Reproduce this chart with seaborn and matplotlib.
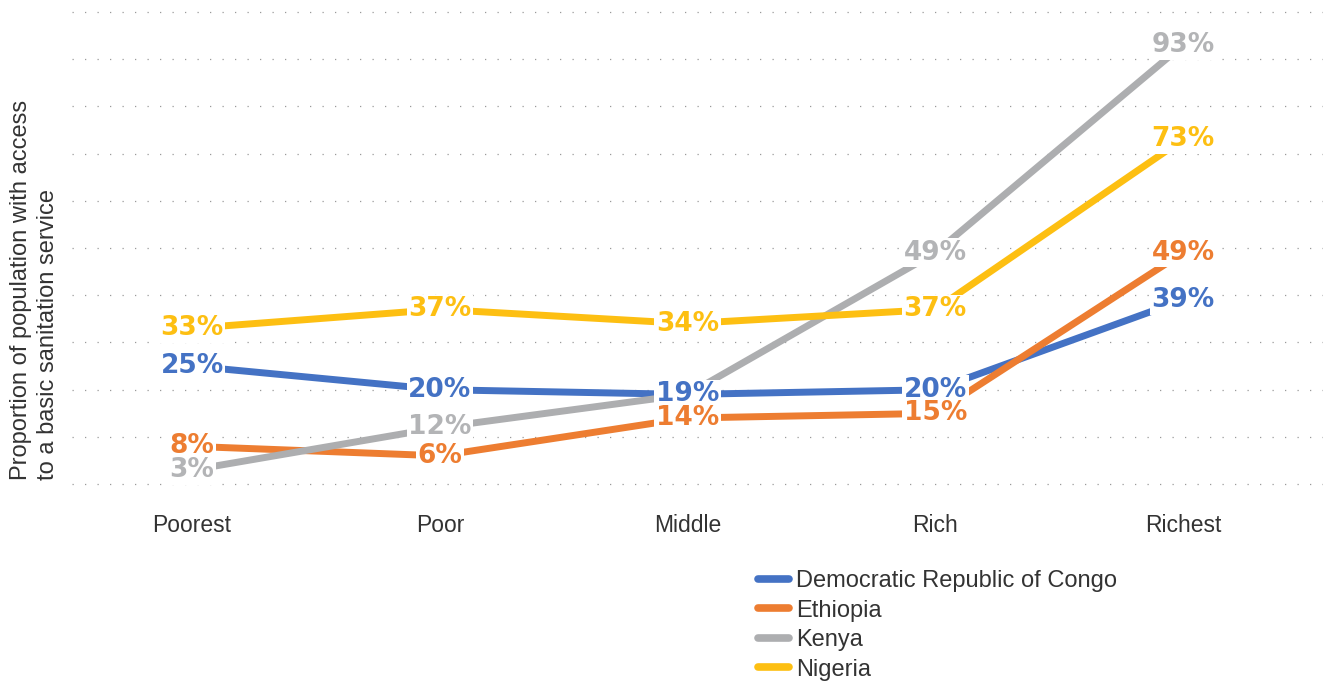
import seaborn as sns
import matplotlib.pyplot as plt
import pandas as pd

plt.switch_backend('agg')

sns.set_style('white')
plt.rcParams['font.family'] = ['Liberation Sans', 'DejaVu Sans']

quintiles = ['Poorest', 'Poor', 'Middle', 'Rich', 'Richest']
countries = ['Democratic Republic of Congo', 'Ethiopia', 'Kenya', 'Nigeria']
drc = [25, 20, 19, 20, 39]
ethiopia = [8, 6, 14, 15, 49]
kenya = [3, 12, 19, 49, 93]
nigeria = [33, 37, 34, 37, 73]
colors = ['#4472C4', '#ED7D31', '#ADAEB0', '#FDBF12']
label_colors = ['#4472C4', '#ED7D31', '#B3B4B6', '#FDBF12']

values = [drc, ethiopia, kenya, nigeria]
df = pd.DataFrame({
    'quintile': quintiles * len(countries),
    'country': [c for c in countries for _ in quintiles],
    'value': [v for vals in values for v in vals],
})

fig = plt.figure(figsize=(13.23, 6.81), dpi=100)
ax = fig.add_axes([0.0544, 0.2863, 0.9456, 0.699])

sns.lineplot(data=df, x='quintile', y='value', hue='country',
             palette=colors, sort=False, linewidth=5,
             solid_capstyle='round', ax=ax, legend=True)

# Kenya's middle point has no label of its own
for vals, col in zip(values, label_colors):
    for i, v in enumerate(vals):
        if vals is kenya and i == 2:
            continue
        ax.text(i, v, f'{v}%', ha='center', va='center', color=col,
                fontsize=19, fontweight='bold', family='DejaVu Sans',
                zorder=5,
                bbox=dict(boxstyle='square,pad=0.06', fc='white', ec='none'))

ax.set_ylim(-0.4, 100.4)
ax.set_xlim(-0.485, 4.565)
ax.set_yticks(range(0, 101, 10))
ax.set_yticklabels([])
ax.yaxis.grid(True, color='#9a9a9a', linestyle=(0, (1, 9)), linewidth=0.9)
ax.xaxis.grid(False)
for s in ax.spines.values():
    s.set_visible(False)
ax.tick_params(axis='x', length=0, pad=20, labelsize=16.5, labelcolor='#333333')
ax.tick_params(axis='y', length=0)
ax.set_xlabel('')
ax.set_ylabel('')

fig.text(0.026, 0.574,
         'Proportion of population with access\nto a basic sanitation service',
         rotation=90, ha='center', va='center', multialignment='left',
         fontsize=17, color='#333333', linespacing=1.25)

handles, labels = ax.get_legend_handles_labels()
ax.get_legend().remove()
leg = fig.legend(handles, labels, loc='upper left',
                 bbox_to_anchor=(0.573, 0.163), frameon=False,
                 fontsize=17, handlelength=1.3, handletextpad=0.3,
                 labelspacing=0.32, borderaxespad=0, borderpad=0)
for t in leg.get_texts():
    t.set_color('#333333')
for h in leg.get_lines():
    h.set_linewidth(5.5)
    h.set_solid_capstyle('round')

plt.savefig('out.png', dpi=100)
